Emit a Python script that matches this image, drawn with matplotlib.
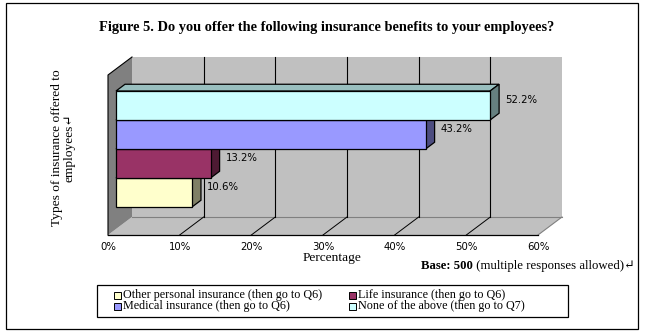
import matplotlib
matplotlib.use('Agg')
import matplotlib.pyplot as plt
import matplotlib.colors as mcolors
from matplotlib.patches import Polygon, Rectangle
import numpy as np

# ---------------- data ----------------
categories = ['Other personal insurance (then go to Q6)',
              'Life insurance (then go to Q6)',
              'Medical insurance (then go to Q6)',
              'None of the above (then go to Q7)']
values = [10.6, 13.2, 43.2, 52.2]
bar_colors = ['#FFFFCC', '#993366', '#9999FF', '#CCFFFF']
x_ticks = [0, 10, 20, 30, 40, 50, 60]
x_tick_labels = ['0%', '10%', '20%', '30%', '40%', '50%', '60%']
value_labels = ['10.6%', '13.2%', '43.2%', '52.2%']
title = 'Figure 5. Do you offer the following insurance benefits to your employees?'
y_title = 'Types of insurance offered to\nemployees\u21b5'
x_title = 'Percentage'

SERIF = ['Liberation Serif', 'DejaVu Serif']
SANS = ['DejaVu Sans']

W, H = 647, 335
fig = plt.figure(figsize=(W / 100, H / 100), dpi=100)
fig.patch.set_facecolor('white')


def fx(px):
    return px / W


def fy(py):
    return 1 - py / H


# overlay axes in pixel coordinates for frame / legend
over = fig.add_axes([0, 0, 1, 1])
over.set_xlim(0, W)
over.set_ylim(H, 0)
over.axis('off')
over.add_patch(Rectangle((6, 3), 632, 326, fill=False, ec='black', lw=0.9))

# ---------------- main 3D-looking axes ----------------
L, R, T, B = 108, 538, 75, 235
ax = fig.add_axes([fx(L), fy(B), (R - L) / W, (B - T) / H])
ax.set_facecolor('none')
sx = (R - L) / 60.0      # pixels per percent
sy = 29.0                # pixels per category
y0 = -0.5 - 22 / sy
y1 = y0 + (B - T) / sy
ax.set_xlim(0, 60)
ax.set_ylim(y0, y1)


def off(dx, dy):
    return dx / sx, dy / sy


wx, wy = off(24, 18)       # depth of walls
fxo, fyo = off(8, 6)       # bar front face offset
dbx, dby = off(9, 6.75)    # bar depth

wall_c = '#C0C0C0'
side_wall_c = '#808080'

# back wall
ax.add_patch(Rectangle((wx, y0 + wy), 60, y1 - y0, fc=wall_c, ec='none',
                       clip_on=False, zorder=0))
# floor
ax.add_patch(Polygon([(0, y0), (60, y0), (60 + wx, y0 + wy), (wx, y0 + wy)],
                     closed=True, fc=wall_c, ec='none', clip_on=False, zorder=0.5))
ax.plot([wx, 60 + wx], [y0 + wy, y0 + wy], color='#808080', lw=0.8,
        clip_on=False, zorder=0.6)
ax.plot([60, 60 + wx], [y0, y0 + wy], color='#808080', lw=0.8,
        clip_on=False, zorder=0.6)
# left wall
ax.add_patch(Polygon([(0, y0), (wx, y0 + wy), (wx, y1 + wy), (0, y1)],
                     closed=True, fc=side_wall_c, ec='none', clip_on=False, zorder=0.7))
ax.plot([0, 0, wx], [y0, y1, y1 + wy], color='black', lw=0.8,
        clip_on=False, zorder=0.8)

# gridlines on back wall and floor
for t in x_ticks[1:-1]:
    ax.plot([t + wx, t + wx], [y0 + wy, y1 + wy], color='black', lw=0.8,
            clip_on=False, zorder=0.9)
    ax.plot([t, t + wx], [y0, y0 + wy], color='black', lw=0.7,
            clip_on=False, zorder=0.9)

# bars (bottom to top)
pos = np.arange(len(values))
for i, (v, c) in enumerate(zip(values, bar_colors)):
    z = 2 + i
    rgb = np.array(mcolors.to_rgb(c))
    top_c = rgb * 0.75
    side_c = rgb * 0.5
    yc = pos[i] + fyo
    ax.barh([yc], [v], height=1.0, left=fxo, color=c, edgecolor='black',
            linewidth=0.9, zorder=z + 0.5, clip_on=False)
    xr = fxo + v
    ax.add_patch(Polygon([(fxo, yc + 0.5), (xr, yc + 0.5),
                          (xr + dbx, yc + 0.5 + dby), (fxo + dbx, yc + 0.5 + dby)],
                         closed=True, fc=top_c, ec='black', lw=0.9,
                         zorder=z, clip_on=False))
    ax.add_patch(Polygon([(xr, yc - 0.5), (xr, yc + 0.5),
                          (xr + dbx, yc + 0.5 + dby), (xr + dbx, yc - 0.5 + dby)],
                         closed=True, fc=side_c, ec='black', lw=0.9,
                         zorder=z, clip_on=False))
    ax.text(xr + dbx + 6 / sx, yc + dby - 1 / sy, value_labels[i],
            ha='left', va='center', fontsize=7.3, family=SANS, zorder=10,
            clip_on=False)

# axis styling
for s in ['left', 'right', 'top']:
    ax.spines[s].set_visible(False)
ax.spines['bottom'].set_color('black')
ax.spines['bottom'].set_linewidth(0.9)
ax.spines['bottom'].set_zorder(20)
ax.set_yticks([])
ax.set_xticks(x_ticks)
ax.set_xticklabels(x_tick_labels, fontsize=7.3, family=SANS)
ax.tick_params(axis='x', length=0, pad=5)

# ---------------- texts ----------------
fig.text(fx(327), fy(27), title, ha='center', va='center', fontsize=10.4,
         fontweight='bold', family=SERIF)
fig.text(fx(63), fy(148), y_title, rotation=90, ha='center', va='center',
         multialignment='center', fontsize=9.6, family=SERIF, linespacing=1.1)
fig.text(fx(332), fy(258), x_title, ha='center', va='center', fontsize=9.6,
         family=SERIF)
t1 = fig.text(fx(421), fy(266), 'Base: 500', ha='left', va='center', fontsize=9.2,
              fontweight='bold', family=SERIF)
fig.canvas.draw()
bbx = t1.get_window_extent()
fig.text(bbx.x1 / fig.bbox.width, fy(266), ' (multiple responses allowed)\u21b5',
         fontsize=9.2, family=SERIF, ha='left', va='center')

# ---------------- legend (manual) ----------------
over.add_patch(Rectangle((97, 285), 471, 32, fill=False, ec='black', lw=0.9))
leg_order = [0, 2, 1, 3]
leg_x = [117, 352]
leg_y = [295, 306]
for k, idx in enumerate(leg_order):
    col = k // 2
    row = k % 2
    xm, ym = leg_x[col], leg_y[row]
    over.add_patch(Rectangle((xm - 3.5, ym - 3.5), 7, 7, fc=bar_colors[idx],
                             ec='black', lw=0.7))
    over.text(xm + 6, ym, categories[idx], ha='left', va='center', fontsize=8.7,
              family=SERIF)

fig.savefig('out.png', dpi=100)
